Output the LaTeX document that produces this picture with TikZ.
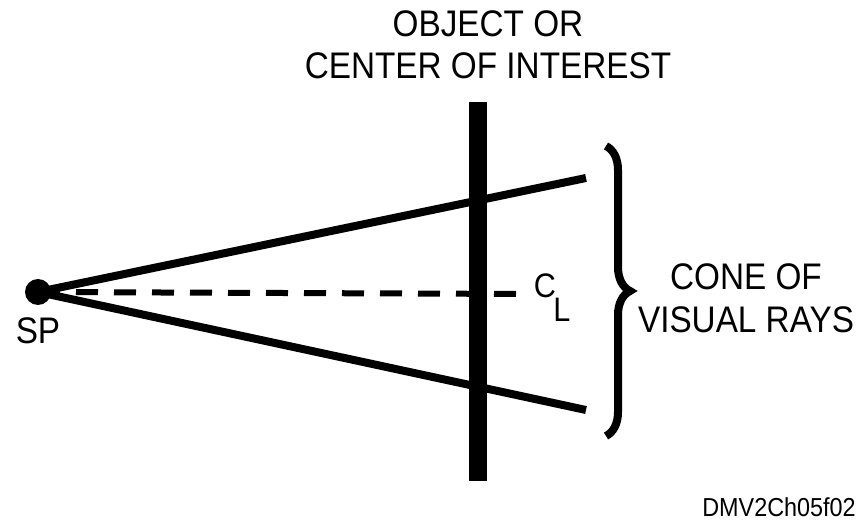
\documentclass[tikz,border=0pt]{standalone}
\usepackage{fontspec}
\setmainfont{Liberation Sans}[FakeStretch=0.9]
\usetikzlibrary{positioning,decorations.pathreplacing}

\begin{document}
\begin{tikzpicture}[x=1pt,y=-1pt,
    ray/.style={line width=8pt},
    lbl/.style={font=\fontsize{37}{44}\selectfont,inner sep=0pt,align=center}]
  \useasboundingbox (0,0) rectangle (863,526);
  % station point and object plane
  \node[circle,fill,minimum size=26pt,inner sep=0pt] (sp) at (38,292) {};
  \node[lbl,below=12pt of sp] (splbl) {SP};
  \coordinate (bartop) at (478,102);
  \coordinate (barbot) at (478,481);
  \draw[line width=18pt] (bartop) -- (barbot);
  \node[lbl,anchor=north] (obj) at (488,10) {OBJECT OR\\[-2pt]CENTER OF INTEREST};
  % rays
  \coordinate (raytop) at (586,178);
  \coordinate (raybot) at (586,410);
  \coordinate (cline) at (527,294);
  \draw[ray] (sp.center) -- (raytop);
  \draw[ray] (sp.center) -- (raybot);
  \draw[line width=6pt,dash pattern=on 22pt off 16pt] (sp.center) -- (cline);
  \node[font=\fontsize{34}{34}\selectfont,inner sep=0pt] (c) at (545,286) {C};
  \node[font=\fontsize{34}{34}\selectfont,inner sep=0pt] (l) at (562,310) {L};
  % cone
  \coordinate (brtop) at (606,146);
  \coordinate (brbot) at (606,436);
  \draw[line width=8pt,decoration={brace,amplitude=24pt},decorate] (brtop) -- (brbot);
  \node[lbl] (cone) at (746,298) {CONE OF\\[-1pt]VISUAL RAYS};
  \node[font=\fontsize{26}{26}\selectfont,inner sep=0pt] (fig) at (779,507) {DMV2Ch05f02};
\end{tikzpicture}
\end{document}
